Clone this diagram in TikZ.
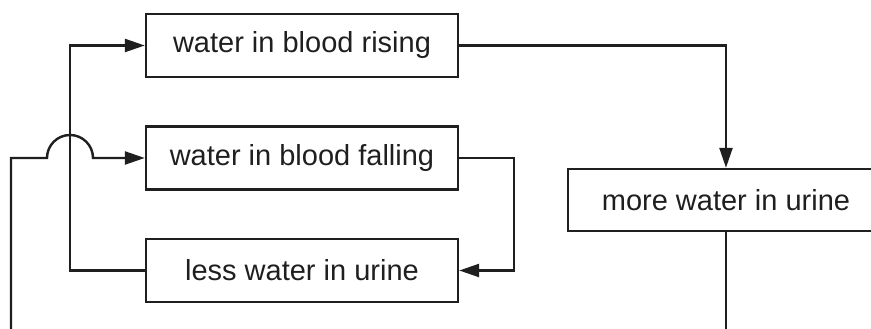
\documentclass[tikz,border=0pt]{standalone}
\usepackage{fontspec}
\setmainfont{Liberation Sans}
\usetikzlibrary{arrows.meta}
\begin{document}
\begin{tikzpicture}[x=1pt,y=1pt,
  line width=2.4pt, color={black!88},
  box/.style={draw, rectangle, minimum width=312pt, minimum height=63pt, inner sep=0pt,
    font=\fontsize{29}{34}\selectfont, text=black!88},
  conn/.style={line width=2.4pt, line join=miter},
  tip/.style={-{Triangle[length=20pt,width=13pt]}}]
\clip (0,0) rectangle (871,329);
\node[box] (rise) at (302,283.5) {water in blood rising};
\node[box] (fall) at (302,171) {water in blood falling};
\node[box] (less) at (302,58.5) {less water in urine};
\node[box, minimum width=316pt, minimum height=62pt] (more) at (726,129) {more water in urine};
\coordinate (startL) at (11,0);
\coordinate (endM) at (726,0);
% left loop from less to rise
\draw[conn,tip] (less.west) -- (70,58.5) -- (70,283.5) -- (rise.west);
% rise to more
\draw[conn,tip] (rise.east) -| (more.north);
% fall to less
\draw[conn,tip] (fall.east) -- (514,171) |- (less.east);
% more down
\draw[conn] (more.south) -- (endM);
% left entry with hop
\draw[conn,tip] (startL) -- (11,171) -- (47,171) arc[start angle=180,end angle=0,radius=23] -- (fall.west);
\end{tikzpicture}
\end{document}
